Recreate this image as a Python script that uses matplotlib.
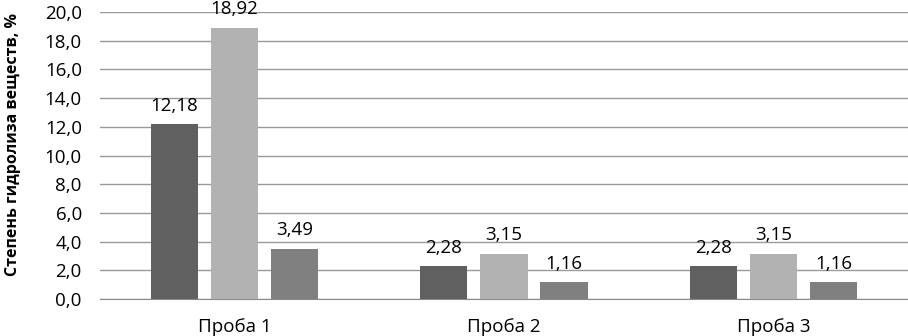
import matplotlib
matplotlib.use("Agg")
import matplotlib.pyplot as plt
import numpy as np

categories = ["Проба 1", "Проба 2", "Проба 3"]
series1 = [12.18, 2.28, 2.28]
series2 = [18.92, 3.15, 3.15]
series3 = [3.49, 1.16, 1.16]
yticks = [0, 2, 4, 6, 8, 10, 12, 14, 16, 18, 20]
ylabel = "Степень гидролиза веществ, %"

plt.rcParams['font.family'] = ['Open Sans', 'DejaVu Sans']

fig = plt.figure(figsize=(9.08, 3.36), dpi=100)
ax = fig.add_axes([0.110, 0.110, 0.890, 0.854])

x = np.arange(len(categories))
w = 0.175
step = 0.223
colors = ["#606060", "#b2b2b2", "#808080"]
for i, (vals, c) in enumerate(zip([series1, series2, series3], colors)):
    pos = x + (i - 1) * step
    ax.bar(pos, vals, width=w, color=c, zorder=3)
    for p, v in zip(pos, vals):
        ax.annotate(f"{v:.2f}".replace(".", ","), (p, v), xytext=(0, 7),
                    textcoords="offset points", ha="center", va="bottom",
                    fontsize=13.5, color="#000000", annotation_clip=False, clip_on=False)

ax.set_xlim(-0.5, 2.5)
ax.set_ylim(0, 20)
ax.set_yticks(yticks)
ax.set_yticklabels([f"{t:.1f}".replace(".", ",") for t in yticks], fontsize=13.5)
ax.set_xticks(x)
ax.set_xticklabels(categories, fontsize=13.5)
ax.tick_params(axis="y", length=0, pad=13)
ax.tick_params(axis="x", length=0, pad=14)
ax.grid(axis="y", color="#9a9a9a", linewidth=1, zorder=0)
for s in ["left", "right", "top"]:
    ax.spines[s].set_visible(False)
ax.spines["bottom"].set_color("#8a8a8a")
ax.set_ylabel(ylabel, fontsize=11.5, fontweight="bold")
ax.yaxis.set_label_coords(-0.097, 0.537)

fig.savefig("out.png", dpi=100)
